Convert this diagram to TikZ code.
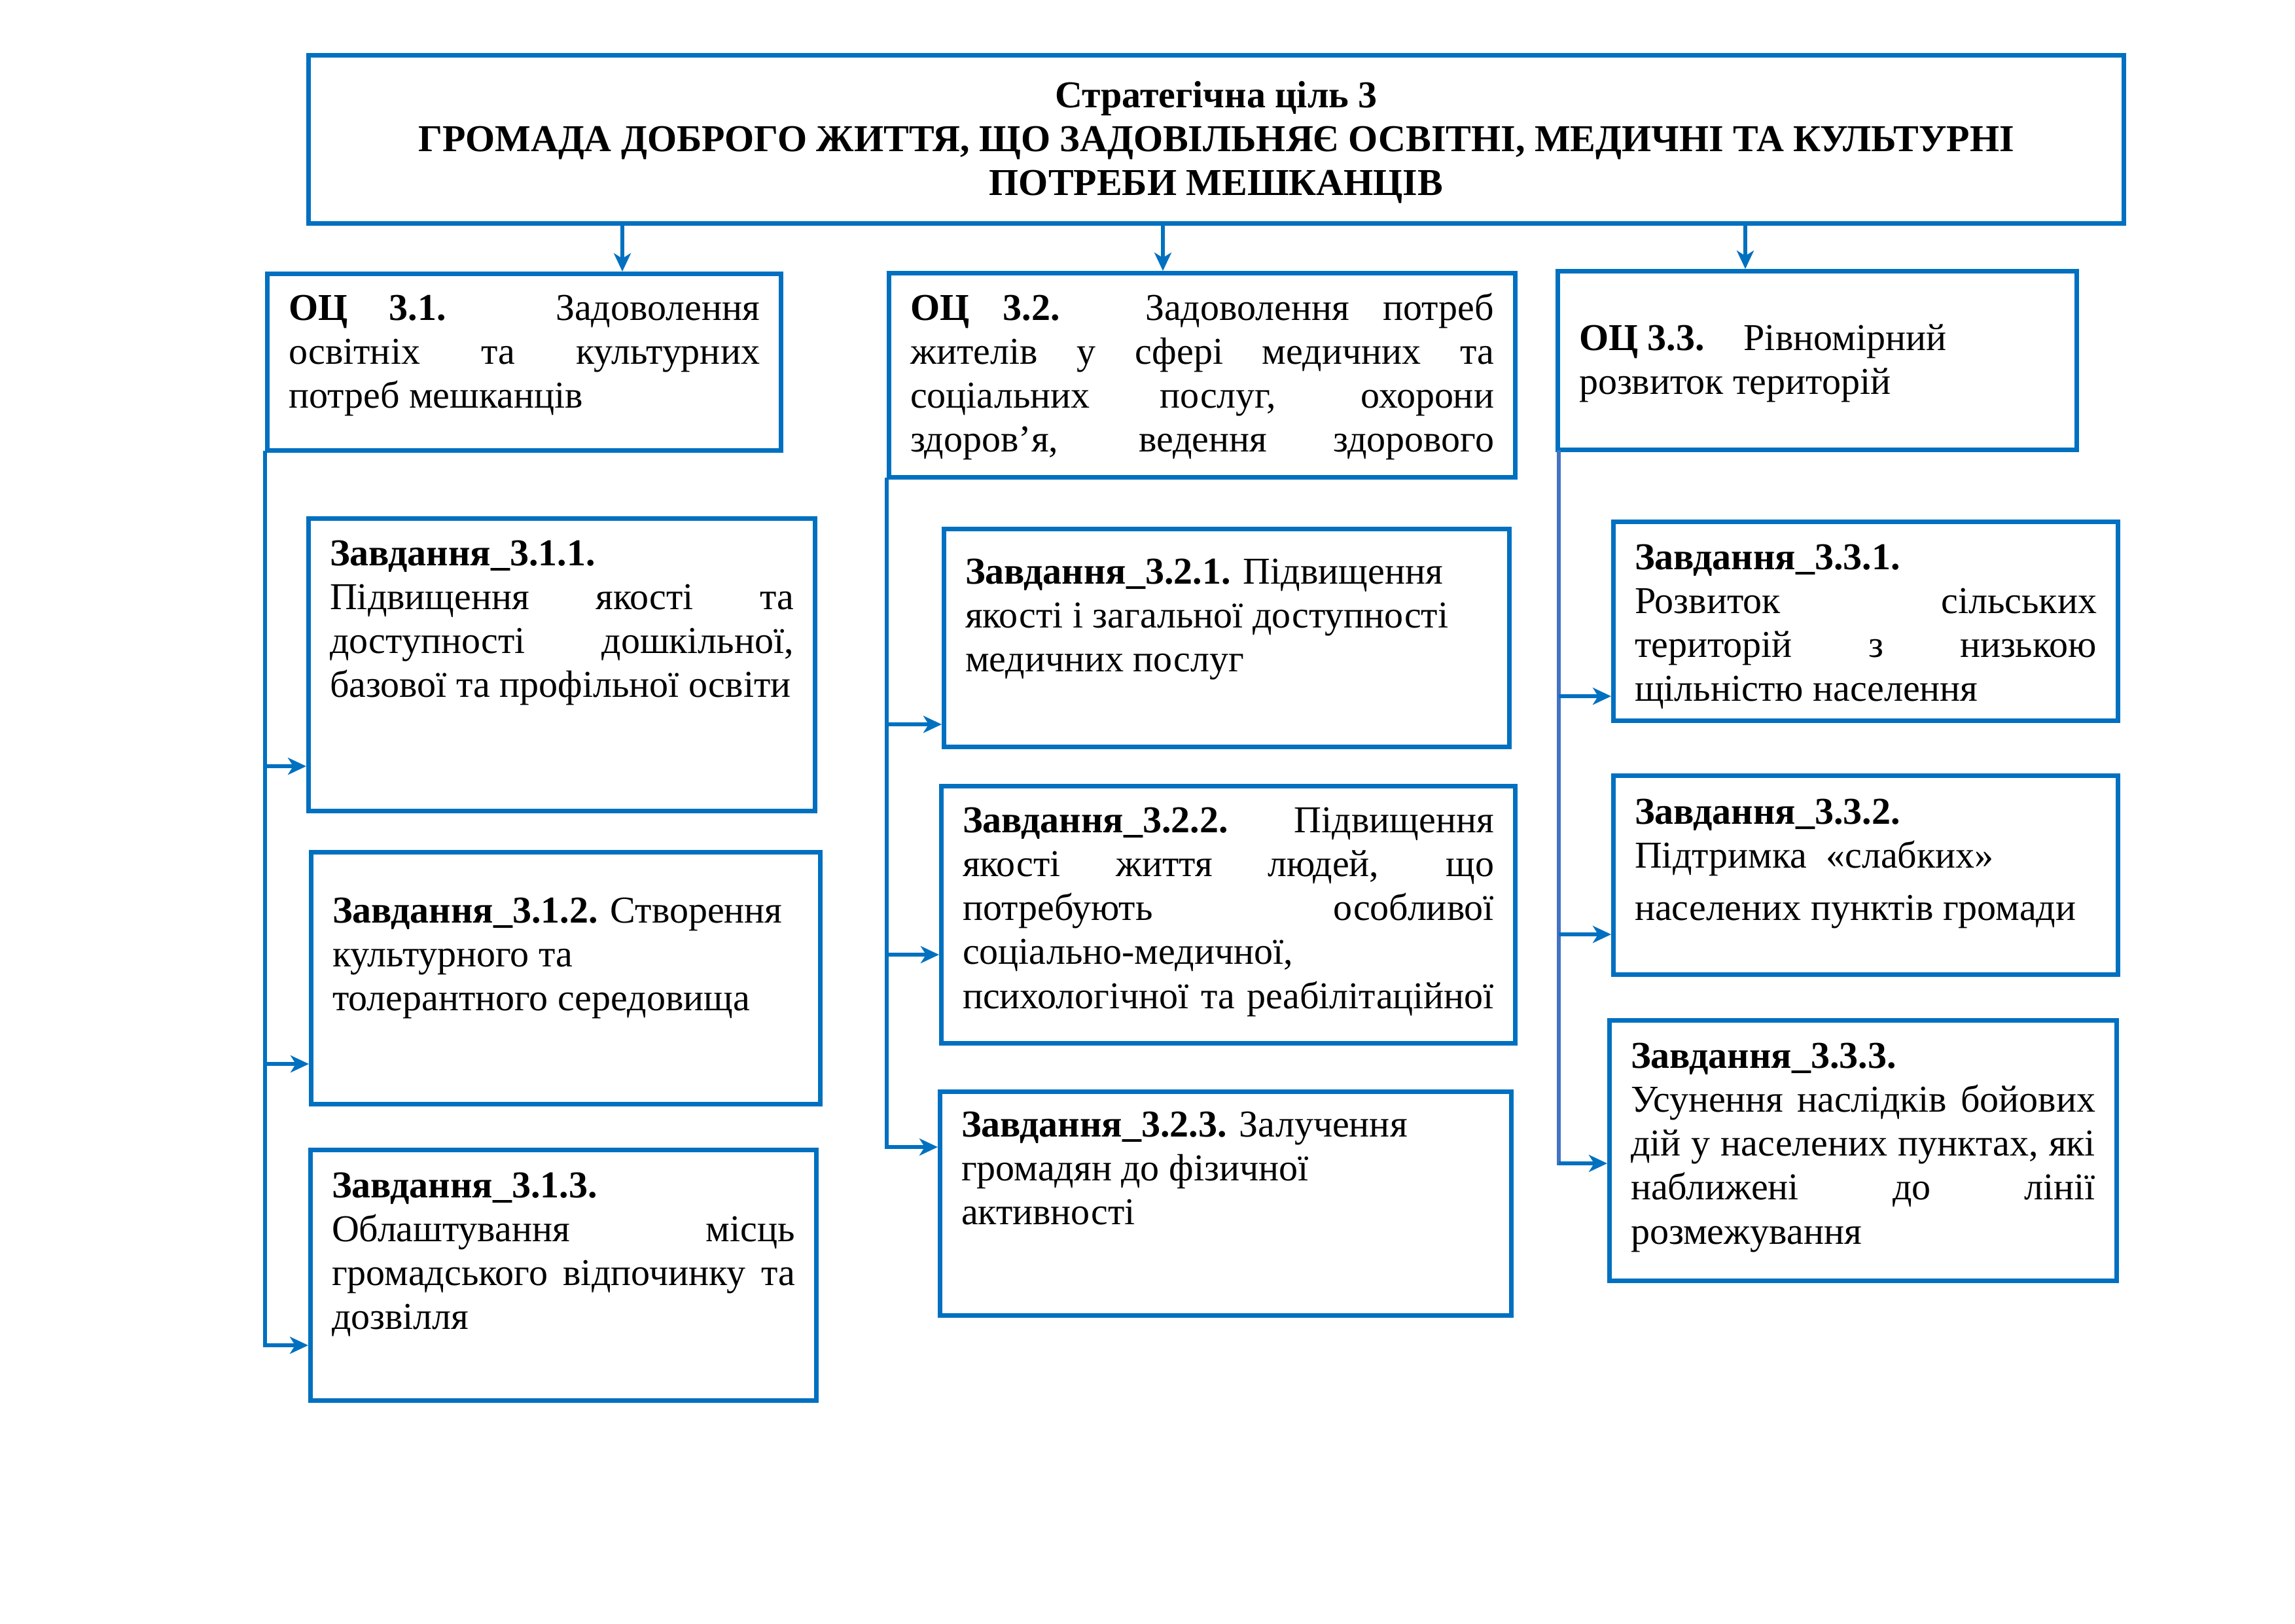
\documentclass[tikz,border=0pt]{standalone}
\usepackage{fontspec}
\setmainfont{Liberation Serif}
\usetikzlibrary{arrows.meta, positioning}
\definecolor{boxblue}{HTML}{0070C0}
\definecolor{lineblue}{HTML}{4472C4}
\hbadness=10000
\newcommand{\boxfont}{\fontsize{16.5}{19.1}\selectfont}
\newcommand{\boxtext}[4]{\parbox[c][#2][t]{#1}{\vspace*{#3}\strut#4}}
\tikzset{
    goal/.style = {rectangle, draw=boxblue, line width=2pt, inner xsep=0.325cm, inner ysep=0pt, anchor=north west, font=\boxfont},
    arrow/.style = {draw=boxblue, line width=1.6pt, -{Stealth[length=0.28cm, width=0.26cm, inset=0.08cm]}},
    trunk/.style = {draw=boxblue, line width=1.6pt, line cap=rect}
}

\begin{document}
\begin{tikzpicture}
\useasboundingbox (0,0) rectangle (35.07,-24.81);

% strategic goal
\node[goal] (top) at (4.68,-0.81) {\boxtext{27.09cm}{2.57cm}{0.33cm}{\centering\bfseries
Стратегічна ціль 3\\
ГРОМАДА ДОБРОГО ЖИТТЯ, ЩО ЗАДОВІЛЬНЯЄ ОСВІТНІ, МЕДИЧНІ ТА КУЛЬТУРНІ\\
ПОТРЕБИ МЕШКАНЦІВ}};

% operational goals
\node[goal] (o31) at (4.05,-4.15) {\boxtext{7.20cm}{2.70cm}{0.24cm}{\textbf{ОЦ 3.1.} Задоволення\linebreak освітніх та культурних\linebreak потреб мешканців}};
\node[goal] (o32) at (13.55,-4.14) {\boxtext{8.92cm}{3.12cm}{0.25cm}{\textbf{ОЦ 3.2.} Задоволення потреб\linebreak жителів у сфері медичних та\linebreak соціальних послуг, охорони\linebreak здоров’я, ведення здорового{\parfillskip=0pt\par}}};
\node[goal] (o33) at (23.77,-4.11) {\boxtext{7.28cm}{2.73cm}{0.74cm}{\textbf{ОЦ 3.3.}\hspace{0.6cm}Рівномірний\\ розвиток територій}};

\coordinate (a1) at (9.51,0);
\coordinate (a2) at (17.77,0);
\coordinate (a3) at (26.67,0);
\draw[arrow] (top.south -| a1) -- (o31.north -| a1);
\draw[arrow] (top.south -| a2) -- (o32.north -| a2);
\draw[arrow] (top.south -| a3) -- (o33.north -| a3);

% tasks 3.1
\node[goal] (z311) at (4.68,-7.89) {\boxtext{7.09cm}{4.47cm}{0.25cm}{\textbf{Завдання\_3.1.1.}\\ Підвищення якості та\linebreak доступності дошкільної,\linebreak базової та профільної освіти}};
\node[goal] (z312) at (4.72,-12.99) {\boxtext{7.13cm}{3.85cm}{0.61cm}{\textbf{Завдання\_3.1.2.} Створення\\ культурного та\\ толерантного середовища}};
\node[goal] (z313) at (4.71,-17.54) {\boxtext{7.08cm}{3.83cm}{0.26cm}{\textbf{Завдання\_3.1.3.}\\ Облаштування місць\linebreak громадського відпочинку та\linebreak дозвілля}};

% tasks 3.2
\node[goal] (z321) at (14.39,-8.05) {\boxtext{7.99cm}{3.33cm}{0.37cm}{\textbf{Завдання\_3.2.1.} Підвищення\\ якості і загальної доступності\\ медичних послуг}};
\node[goal] (z322) at (14.35,-11.98) {\boxtext{8.12cm}{3.93cm}{0.24cm}{\textbf{Завдання\_3.2.2.} Підвищення\linebreak якості життя людей, що\linebreak потребують особливої\linebreak соціально-медичної,\\ психологічної та реабілітаційної{\parfillskip=0pt\par}}};
\node[goal] (z323) at (14.33,-16.65) {\boxtext{8.08cm}{3.42cm}{0.22cm}{\textbf{Завдання\_3.2.3.} Залучення\\ громадян до фізичної\\ активності}};

% tasks 3.3
\node[goal] (z331) at (24.62,-7.94) {\boxtext{7.06cm}{3.04cm}{0.26cm}{\textbf{Завдання\_3.3.1.}\\ Розвиток сільських\linebreak територій з низькою\linebreak щільністю населення}};
\node[goal] (z332) at (24.62,-11.82) {\boxtext{7.06cm}{3.04cm}{0.27cm}{\textbf{Завдання\_3.3.2.}\\ Підтримка\ \ «слабких»\\[0.13cm] населених пунктів громади}};
\node[goal] (z333) at (24.56,-15.56) {\boxtext{7.10cm}{3.98cm}{0.26cm}{\textbf{Завдання\_3.3.3.}\\ Усунення наслідків бойових\linebreak дій у населених пунктах, які\linebreak наближені до лінії\linebreak розмежування}};

% connectors
\coordinate (e311) at ([yshift=0.72cm]z311.south west);
\coordinate (e312) at ([yshift=0.65cm]z312.south west);
\coordinate (e313) at ([yshift=0.88cm]z313.south west);
\coordinate (e321) at ([yshift=0.38cm]z321.south west);
\coordinate (e322) at ([yshift=1.39cm]z322.south west);
\coordinate (e323) at ([yshift=2.61cm]z323.south west);
\coordinate (e331) at ([yshift=0.41cm]z331.south west);
\coordinate (e332) at ([yshift=0.65cm]z332.south west);
\coordinate (e333) at ([yshift=1.83cm]z333.south west);

\draw[trunk] (o31.south west) -- (o31.south west |- e313);
\draw[arrow] (o31.south west |- e311) -- (e311);
\draw[arrow] (o31.south west |- e312) -- (e312);
\draw[arrow] (o31.south west |- e313) -- (e313);

\draw[trunk] (o32.south west) -- (o32.south west |- e323);
\draw[arrow] (o32.south west |- e321) -- (e321);
\draw[arrow] (o32.south west |- e322) -- (e322);
\draw[arrow] (o32.south west |- e323) -- (e323);

\draw[trunk, draw=lineblue] ([xshift=0.05cm]o33.south west) -- ([xshift=0.05cm]o33.south west |- e333);
\draw[arrow] ([xshift=0.05cm]o33.south west |- e331) -- (e331);
\draw[arrow] ([xshift=0.05cm]o33.south west |- e332) -- (e332);
\draw[arrow] ([xshift=0.05cm]o33.south west |- e333) -- (e333);

\end{tikzpicture}
\end{document}
